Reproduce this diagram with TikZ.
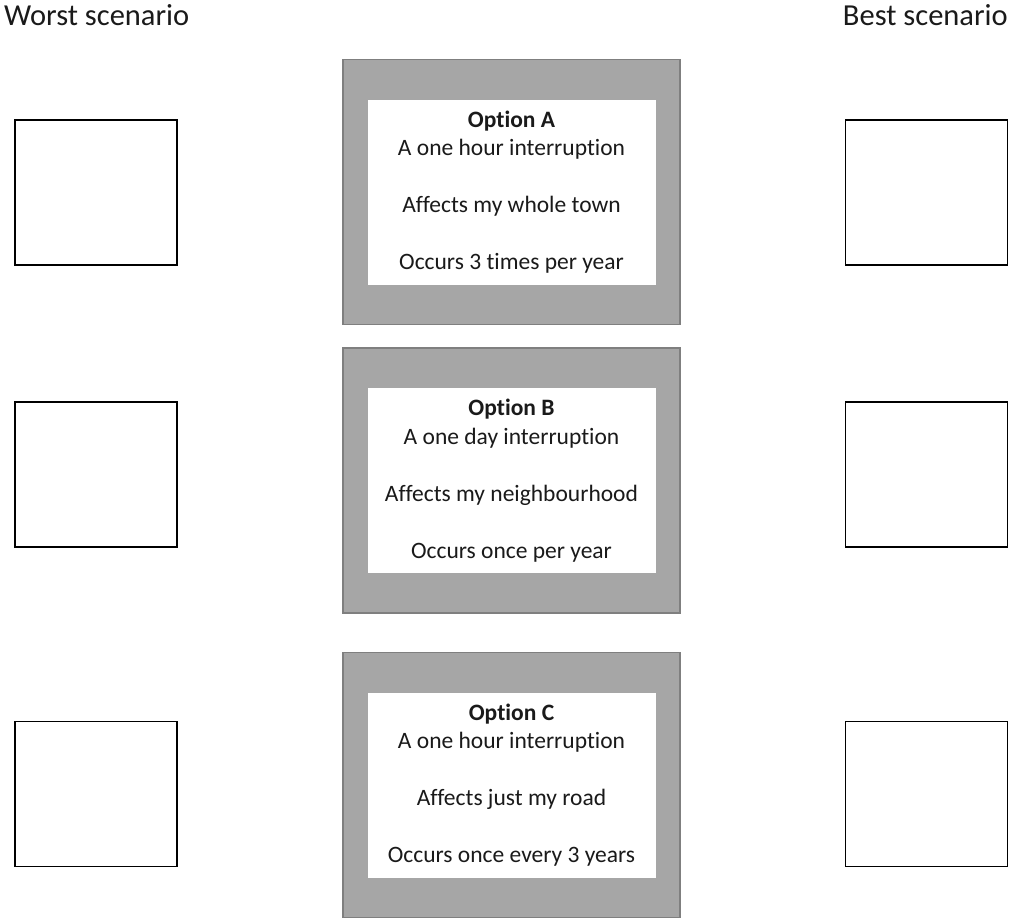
\documentclass[tikz,border=0pt]{standalone}
\usepackage{fontspec}
\setmainfont[Ligatures=NoCommon]{Carlito}
\definecolor{framegrey}{HTML}{A6A6A6}
\definecolor{frameedge}{HTML}{7F7F7F}
\definecolor{inkgrey}{HTML}{1A1A1A}
\begin{document}
\begin{tikzpicture}[x=1pt, y=-1pt,
  every node/.style={inner sep=0pt, text=inkgrey},
  headlabel/.style={font=\fontsize{30.5}{36}\selectfont},
  rankbox/.style={draw=black, line width=1.6pt, fill=white, minimum width=162pt, minimum height=145pt},
  optframe/.style={draw=frameedge, line width=1.3pt, fill=framegrey, minimum width=337pt, minimum height=265pt},
  optcard/.style={fill=white, minimum width=288pt, minimum height=185pt, align=center, font=\fontsize{23.5}{28.5}\selectfont}]
  \useasboundingbox (0,0) rectangle (1010,919);
  % --- headings ---
  \node[headlabel, anchor=base west] (worst) at (4,25) {Worst scenario};
  \node[headlabel, anchor=base east] (best) at (1008,25) {Best scenario};
  % --- Option A row ---
  \node[rankbox] (worstA) at (96,192.5) {};
  \node[optframe] (frameA) at (511.5,192) {};
  \node[optcard] (optA) at (frameA.center) {\textbf{Option A}\\ A one hour interruption\\[28.5pt] Affects my whole town\\[28.5pt] Occurs 3 times per year};
  \node[rankbox] (bestA) at (926.5,192.5) {};
  % --- Option B row ---
  \node[rankbox] (worstB) at (96,474.5) {};
  \node[optframe] (frameB) at (511.5,480.5) {};
  \node[optcard] (optB) at (frameB.center) {\textbf{Option B}\\ A one day interruption\\[28.5pt] Affects my neighbourhood\\[28.5pt] Occurs once per year};
  \node[rankbox] (bestB) at (926.5,474.5) {};
  % --- Option C row ---
  \node[rankbox] (worstC) at (96,794) {};
  \node[optframe] (frameC) at (511.5,785) {};
  \node[optcard] (optC) at (frameC.center) {\textbf{Option C}\\ A one hour interruption\\[28.5pt] Affects just my road\\[28.5pt] Occurs once every 3 years};
  \node[rankbox] (bestC) at (926.5,794) {};
\end{tikzpicture}
\end{document}
